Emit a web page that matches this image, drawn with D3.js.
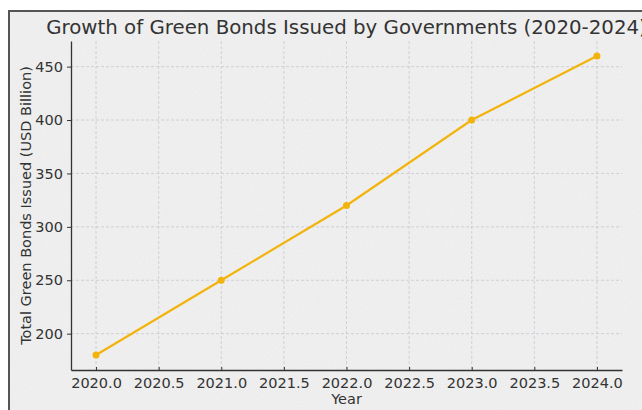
<!DOCTYPE html>
<html>
<head>
<meta charset="UTF-8">
<title>Green Bonds</title>
<style>
  body { margin: 0; background: #fff; }
  text { font-family: "DejaVu Sans", sans-serif; }
</style>
</head>
<body>
<script src="https://cdn.jsdelivr.net/npm/d3@7"></script>
<script>
  var years = [2020, 2021, 2022, 2023, 2024];
  var issued = [180, 250, 320, 400, 460];
  var xTicks = [2020.0, 2020.5, 2021.0, 2021.5, 2022.0, 2022.5, 2023.0, 2023.5, 2024.0];
  var yTicks = [200, 250, 300, 350, 400, 450];

  var W = 642, H = 410;
  var mLeft = 71, mRight = 622, mTop = 41, mBottom = 370;

  var svg = d3.select("body").append("svg").attr("width", W).attr("height", H);

  // noise for the paper-like background
  var defs = svg.append("defs");
  var f = defs.append("filter").attr("id", "noise").attr("x", 0).attr("y", 0).attr("width", "100%").attr("height", "100%");
  f.append("feTurbulence").attr("type", "fractalNoise").attr("baseFrequency", 0.9).attr("numOctaves", 2).attr("seed", 3).attr("result", "t");
  f.append("feColorMatrix").attr("in", "t").attr("type", "matrix")
    .attr("values", "0 0 0 0 0.5  0 0 0 0 0.5  0 0 0 0 0.5  0 0 0 0.15 0");
  f.append("feComposite").attr("in2", "SourceGraphic").attr("operator", "in");

  svg.append("rect").attr("x", 9).attr("y", 11).attr("width", W).attr("height", H)
    .attr("fill", "#f2f2f2").attr("stroke", "#555").attr("stroke-width", 2);
  svg.append("rect").attr("x", 10).attr("y", 12).attr("width", W).attr("height", H)
    .attr("fill", "#f2f2f2").attr("filter", "url(#noise)");

  var x = d3.scaleLinear().domain([2019.8, 2024.2]).range([mLeft, mRight]);
  var y = d3.scaleLinear().domain([166, 474]).range([mBottom, mTop]);

  // grid
  var grid = svg.append("g").attr("stroke", "#c8c8d0").attr("stroke-width", 0.8).attr("stroke-dasharray", "3,2");
  grid.selectAll(".gx").data(xTicks).enter().append("line")
    .attr("x1", d => x(d)).attr("x2", d => x(d)).attr("y1", mTop).attr("y2", mBottom);
  grid.selectAll(".gy").data(yTicks).enter().append("line")
    .attr("y1", d => y(d)).attr("y2", d => y(d)).attr("x1", mLeft).attr("x2", mRight);

  var xAxis = svg.append("g").attr("transform", "translate(0," + mBottom + ")")
    .call(d3.axisBottom(x).tickValues(xTicks).tickFormat(d3.format(".1f")).tickSizeInner(-3).tickSizeOuter(0).tickPadding(8));
  var yAxis = svg.append("g").attr("transform", "translate(" + mLeft + ",0)")
    .call(d3.axisLeft(y).tickValues(yTicks).tickSizeInner(4).tickSizeOuter(0).tickPadding(4));

  [xAxis, yAxis].forEach(function (a) {
    a.select(".domain").attr("stroke", "#333").attr("stroke-width", 1.3);
    a.selectAll(".tick line").attr("stroke", "#333");
    a.selectAll(".tick text").attr("fill", "#333").style("font-size", "14.5px").style("font-family", "DejaVu Sans");
  });

  var pts = years.map((d, i) => [d, issued[i]]);
  svg.append("path").datum(pts)
    .attr("fill", "none").attr("stroke", "#f2b40c").attr("stroke-width", 2.2)
    .attr("d", d3.line().x(d => x(d[0])).y(d => y(d[1])));
  svg.selectAll(".pt").data(pts).enter().append("circle")
    .attr("cx", d => x(d[0])).attr("cy", d => y(d[1])).attr("r", 3.5)
    .attr("fill", "#f2b40c");

  svg.append("text").attr("x", (mLeft + mRight) / 2).attr("y", 34).attr("text-anchor", "middle")
    .attr("fill", "#333").style("font-size", "19.8px").text("Growth of Green Bonds Issued by Governments (2020-2024)");
  svg.append("text").attr("x", (mLeft + mRight) / 2).attr("y", 404).attr("text-anchor", "middle")
    .attr("fill", "#333").style("font-size", "14.5px").text("Year");
  svg.append("text").attr("transform", "translate(31," + (mTop + mBottom) / 2 + ") rotate(-90)")
    .attr("text-anchor", "middle").attr("fill", "#333").style("font-size", "14.5px")
    .text("Total Green Bonds Issued (USD Billion)");
</script>
</body>
</html>
